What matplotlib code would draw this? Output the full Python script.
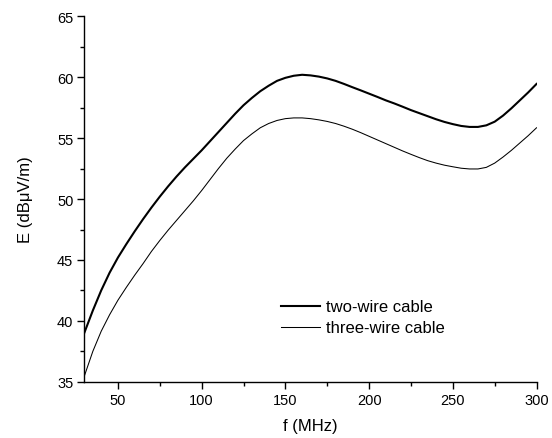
import matplotlib
matplotlib.use("Agg")
import matplotlib.pyplot as plt
from matplotlib.ticker import MultipleLocator

plt.rcParams['font.family'] = ['Liberation Sans', 'DejaVu Sans']

freq = list(range(30, 301, 5))
two_wire = [39.05, 40.85, 42.5, 43.95, 45.2, 46.3, 47.35, 48.35, 49.3, 50.2,
            51.05, 51.85, 52.6, 53.3, 54.0, 54.75, 55.5, 56.25, 57.0, 57.7,
            58.3, 58.85, 59.3, 59.7, 59.95, 60.12, 60.2, 60.15, 60.05, 59.9,
            59.7, 59.45, 59.18, 58.92, 58.65, 58.38, 58.1, 57.85, 57.58, 57.3,
            57.05, 56.8, 56.55, 56.33, 56.15, 56.0, 55.92, 55.92, 56.05, 56.35,
            56.85, 57.45, 58.1, 58.75, 59.45]
three_wire = [35.5, 37.5, 39.15, 40.5, 41.7, 42.75, 43.75, 44.7, 45.7, 46.6,
              47.45, 48.25, 49.05, 49.85, 50.7, 51.6, 52.5, 53.35, 54.1, 54.8,
              55.35, 55.85, 56.2, 56.45, 56.6, 56.66, 56.66, 56.6, 56.5, 56.37,
              56.2, 55.98, 55.73, 55.45, 55.15, 54.85, 54.55, 54.25, 53.95, 53.67,
              53.4, 53.15, 52.95, 52.78, 52.65, 52.53, 52.47, 52.47, 52.6, 52.95,
              53.45, 54.0, 54.6, 55.2, 55.85]

fig = plt.figure(figsize=(5.52, 4.39), dpi=100)
ax = fig.add_axes([0.153, 0.128, 0.819, 0.8326])
ax.plot(freq, two_wire, color='black', lw=1.5, label='two-wire cable',
        solid_joinstyle='round')
ax.plot(freq, three_wire, color='black', lw=0.75, label='three-wire cable',
        solid_joinstyle='round')

ax.set_xlim(30, 300)
ax.set_ylim(35, 65)
ax.xaxis.set_major_locator(MultipleLocator(50))
ax.xaxis.set_minor_locator(MultipleLocator(25))
ax.yaxis.set_major_locator(MultipleLocator(5))
ax.yaxis.set_minor_locator(MultipleLocator(2.5))
for s in ['top', 'right']:
    ax.spines[s].set_visible(False)
for s in ['left', 'bottom']:
    ax.spines[s].set_linewidth(1.0)
ax.tick_params(which='major', direction='out', length=5, width=1, labelsize=10.5, pad=3)
ax.tick_params(which='minor', direction='out', length=2.7, width=1)
ax.set_xlabel('f (MHz)', fontsize=12, labelpad=8)
ax.set_ylabel('E (dBμV/m)', fontsize=12)
ax.yaxis.set_label_coords(-0.114, 0.5)

ax.legend(frameon=False, loc='center left', bbox_to_anchor=(0.509, 0.2745),
          bbox_transform=fig.transFigure, fontsize=12, handlelength=2.35,
          handletextpad=0.36, labelspacing=0.36, borderaxespad=0, borderpad=0)

fig.savefig('out.png', dpi=100)
